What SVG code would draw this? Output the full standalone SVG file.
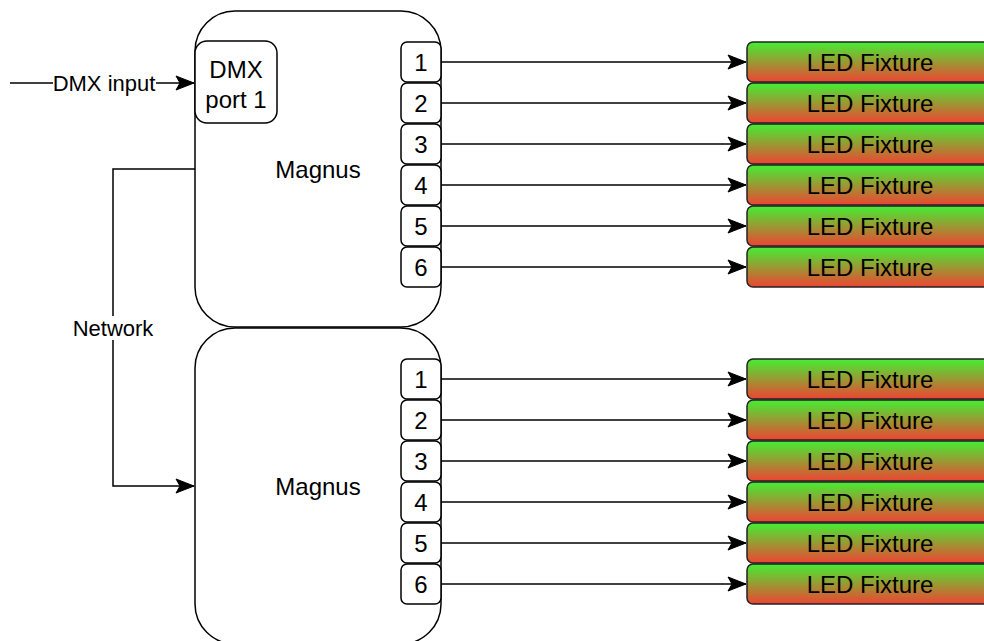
<svg xmlns="http://www.w3.org/2000/svg" width="984" height="641" viewBox="0 0 984 641">
<defs>
<linearGradient id="ledg" x1="0" y1="0" x2="0" y2="1">
<stop offset="0" stop-color="#44EE33"/>
<stop offset="1" stop-color="#EE4433"/>
</linearGradient>
<marker id="arr" viewBox="0 0 20 16" markerWidth="20" markerHeight="16" refX="19" refY="8" orient="auto" markerUnits="userSpaceOnUse">
<path d="M1,1 L19,8 L1,15 L5,8 Z" fill="#000" stroke="#000" stroke-width="1"/>
</marker>
</defs>
<style>
text{font-family:"Liberation Sans",Arial,sans-serif;fill:#000;text-anchor:middle;dominant-baseline:central}
.box{fill:#fff;stroke:#000;stroke-width:1.5}
.port{fill:#fff;stroke:#000;stroke-width:1.5}
.led{fill:url(#ledg);stroke:#222;stroke-width:1.5}
.con{fill:none;stroke:#000;stroke-width:1.5}
.t20{font-size:24px}
.t18{font-size:22px}
</style>
<rect width="984" height="641" fill="#fff"/>
<g id="magnus1">
<rect class="box" x="195" y="11" width="246" height="316" rx="40"/>
<text class="t20" x="318" y="169">Magnus</text>
</g>
<g id="magnus2">
<rect class="box" x="195" y="328" width="246" height="316" rx="40"/>
<text class="t20" x="318" y="486">Magnus</text>
</g>
<g id="dmxport">
<rect class="port" x="195" y="41" width="82" height="82" rx="12"/>
<text class="t20" x="236" y="69">DMX</text>
<text class="t20" x="236" y="99">port 1</text>
</g>
<g id="ports1">
<g id="p1-1"><rect class="port" x="401" y="42" width="40" height="40" rx="6"/><text class="t20" x="421" y="62">1</text></g>
<g id="p1-2"><rect class="port" x="401" y="83" width="40" height="40" rx="6"/><text class="t20" x="421" y="103">2</text></g>
<g id="p1-3"><rect class="port" x="401" y="124" width="40" height="40" rx="6"/><text class="t20" x="421" y="144">3</text></g>
<g id="p1-4"><rect class="port" x="401" y="165" width="40" height="40" rx="6"/><text class="t20" x="421" y="185">4</text></g>
<g id="p1-5"><rect class="port" x="401" y="206" width="40" height="40" rx="6"/><text class="t20" x="421" y="226">5</text></g>
<g id="p1-6"><rect class="port" x="401" y="247" width="40" height="40" rx="6"/><text class="t20" x="421" y="267">6</text></g>
</g>
<g id="ports2">
<g id="p2-1"><rect class="port" x="401" y="359" width="40" height="40" rx="6"/><text class="t20" x="421" y="379">1</text></g>
<g id="p2-2"><rect class="port" x="401" y="400" width="40" height="40" rx="6"/><text class="t20" x="421" y="420">2</text></g>
<g id="p2-3"><rect class="port" x="401" y="441" width="40" height="40" rx="6"/><text class="t20" x="421" y="461">3</text></g>
<g id="p2-4"><rect class="port" x="401" y="482" width="40" height="40" rx="6"/><text class="t20" x="421" y="502">4</text></g>
<g id="p2-5"><rect class="port" x="401" y="523" width="40" height="40" rx="6"/><text class="t20" x="421" y="543">5</text></g>
<g id="p2-6"><rect class="port" x="401" y="564" width="40" height="40" rx="6"/><text class="t20" x="421" y="584">6</text></g>
</g>
<g id="leds1">
<g id="led1-1"><rect class="led" x="747" y="42" width="246" height="40" rx="6"/><text class="t20" x="870" y="62">LED Fixture</text></g>
<g id="led1-2"><rect class="led" x="747" y="83" width="246" height="40" rx="6"/><text class="t20" x="870" y="103">LED Fixture</text></g>
<g id="led1-3"><rect class="led" x="747" y="124" width="246" height="40" rx="6"/><text class="t20" x="870" y="144">LED Fixture</text></g>
<g id="led1-4"><rect class="led" x="747" y="165" width="246" height="40" rx="6"/><text class="t20" x="870" y="185">LED Fixture</text></g>
<g id="led1-5"><rect class="led" x="747" y="206" width="246" height="40" rx="6"/><text class="t20" x="870" y="226">LED Fixture</text></g>
<g id="led1-6"><rect class="led" x="747" y="247" width="246" height="40" rx="6"/><text class="t20" x="870" y="267">LED Fixture</text></g>
</g>
<g id="leds2">
<g id="led2-1"><rect class="led" x="747" y="359" width="246" height="40" rx="6"/><text class="t20" x="870" y="379">LED Fixture</text></g>
<g id="led2-2"><rect class="led" x="747" y="400" width="246" height="40" rx="6"/><text class="t20" x="870" y="420">LED Fixture</text></g>
<g id="led2-3"><rect class="led" x="747" y="441" width="246" height="40" rx="6"/><text class="t20" x="870" y="461">LED Fixture</text></g>
<g id="led2-4"><rect class="led" x="747" y="482" width="246" height="40" rx="6"/><text class="t20" x="870" y="502">LED Fixture</text></g>
<g id="led2-5"><rect class="led" x="747" y="523" width="246" height="40" rx="6"/><text class="t20" x="870" y="543">LED Fixture</text></g>
<g id="led2-6"><rect class="led" x="747" y="564" width="246" height="40" rx="6"/><text class="t20" x="870" y="584">LED Fixture</text></g>
</g>
<g id="connectors">
<path class="con" d="M441,62 H746" marker-end="url(#arr)"/>
<path class="con" d="M441,103 H746" marker-end="url(#arr)"/>
<path class="con" d="M441,144 H746" marker-end="url(#arr)"/>
<path class="con" d="M441,185 H746" marker-end="url(#arr)"/>
<path class="con" d="M441,226 H746" marker-end="url(#arr)"/>
<path class="con" d="M441,267 H746" marker-end="url(#arr)"/>
<path class="con" d="M441,379 H746" marker-end="url(#arr)"/>
<path class="con" d="M441,420 H746" marker-end="url(#arr)"/>
<path class="con" d="M441,461 H746" marker-end="url(#arr)"/>
<path class="con" d="M441,502 H746" marker-end="url(#arr)"/>
<path class="con" d="M441,543 H746" marker-end="url(#arr)"/>
<path class="con" d="M441,584 H746" marker-end="url(#arr)"/>
<path class="con" d="M10,83 H194" marker-end="url(#arr)"/>
<rect x="53" y="71" width="103" height="24" fill="#fff"/>
<text class="t18" x="104" y="83">DMX input</text>
<path class="con" d="M195,169 H113 V486 H194" marker-end="url(#arr)"/>
<rect x="72" y="316" width="83" height="24" fill="#fff"/>
<text class="t18" x="113" y="328">Network</text>
</g>
</svg>
